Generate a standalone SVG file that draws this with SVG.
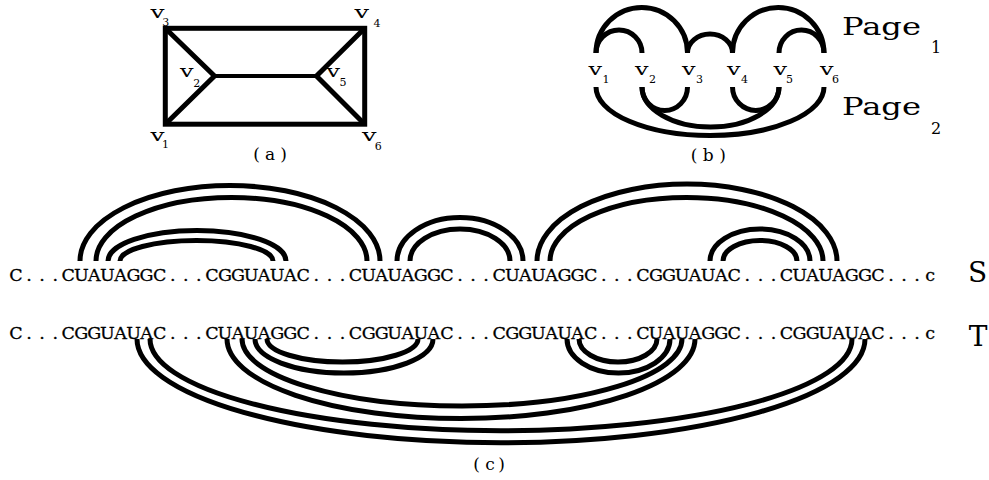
<svg xmlns="http://www.w3.org/2000/svg" width="989" height="480" viewBox="0 0 989 480">
<style>
.e{fill:none;stroke:#000;stroke-width:5;stroke-linecap:butt;stroke-linejoin:miter}
.m{font-family:"DejaVu Serif","Liberation Serif",serif;fill:#000;text-anchor:middle}
.s{font-family:"DejaVu Serif","Liberation Serif",serif;fill:#000;text-anchor:start}
.v{font-size:17.5px}
.sub{font-size:11px}
.seq{font-size:17.5px;stroke:#000;stroke-width:0.3px}
.cap{font-size:17px}
.page{font-size:25px}
.psub{font-size:16px}
.lab{font-size:28px}
</style>
<rect width="989" height="480" fill="#fff"/>

<!-- Panel (a) -->
<g id="a-edges" class="e">
<rect x="165.3" y="28.3" width="199.4" height="95.9"/>
<polyline points="165.3,28.3 214.5,76 165.3,124.2"/>
<polyline points="364.7,28.3 316.5,76 364.7,124.2"/>
<line x1="214.5" y1="76" x2="316.5" y2="76" style="stroke-width:4"/>
</g>
<g id="a-v1"><text class="s v" x="150.5" y="140.7" textLength="14" lengthAdjust="spacingAndGlyphs">v</text><text class="m sub" x="165.5" y="148.3">1</text></g>
<g id="a-v2"><text class="s v" x="180" y="76.7" textLength="13.5" lengthAdjust="spacingAndGlyphs">v</text><text class="m sub" x="196.7" y="86.7">2</text></g>
<g id="a-v3"><text class="s v" x="150.5" y="18.3" textLength="14" lengthAdjust="spacingAndGlyphs">v</text><text class="m sub" x="165.8" y="26">3</text></g>
<g id="a-v4"><text class="s v" x="354.5" y="18.3" textLength="14.5" lengthAdjust="spacingAndGlyphs">v</text><text class="m sub" x="377" y="26.7">4</text></g>
<g id="a-v5"><text class="s v" x="326.5" y="76.7" textLength="13.5" lengthAdjust="spacingAndGlyphs">v</text><text class="m sub" x="343" y="86">5</text></g>
<g id="a-v6"><text class="s v" x="362" y="140.7" textLength="14.5" lengthAdjust="spacingAndGlyphs">v</text><text class="m sub" x="378.3" y="150">6</text></g>
<text class="m cap" x="256.5 270 283.5" y="160">(a)</text>

<!-- Panel (b) -->
<g id="b-page1" class="e">
<path d="M596 53 A45.75 45.5 0 0 1 687.5 53"/>
<path d="M596 53 A23 23 0 0 1 642 53"/>
<path d="M687.5 53 A22.5 19 0 0 1 732.5 53"/>
<path d="M732.5 53 A45.75 45.5 0 0 1 824 53"/>
<path d="M779 53 A22.5 23 0 0 1 824 53"/>
</g>
<g id="b-page2" class="e">
<path d="M642 87 A22.75 23.5 0 0 0 687.5 87"/>
<path d="M732.5 87 A23.25 23.5 0 0 0 779 87"/>
<path d="M642 87 A68.5 40 0 0 0 779 87"/>
<path d="M596 87 A114 48.5 0 0 0 824 87"/>
</g>
<g id="b-v1"><text class="s v" x="588.5" y="75" textLength="13.5" lengthAdjust="spacingAndGlyphs">v</text><text class="m sub" x="606" y="83.3">1</text></g>
<g id="b-v2"><text class="s v" x="635" y="75" textLength="13.5" lengthAdjust="spacingAndGlyphs">v</text><text class="m sub" x="652.5" y="83.3">2</text></g>
<g id="b-v3"><text class="s v" x="682" y="75" textLength="13.5" lengthAdjust="spacingAndGlyphs">v</text><text class="m sub" x="699.5" y="83.3">3</text></g>
<g id="b-v4"><text class="s v" x="727" y="75" textLength="13.5" lengthAdjust="spacingAndGlyphs">v</text><text class="m sub" x="744.5" y="83.3">4</text></g>
<g id="b-v5"><text class="s v" x="773.5" y="75" textLength="13.5" lengthAdjust="spacingAndGlyphs">v</text><text class="m sub" x="789.5" y="83.3">5</text></g>
<g id="b-v6"><text class="s v" x="820" y="75" textLength="13.5" lengthAdjust="spacingAndGlyphs">v</text><text class="m sub" x="835.5" y="83.3">6</text></g>
<g id="b-page-labels">
<text class="s page" x="842" y="35" textLength="79" lengthAdjust="spacingAndGlyphs">Page</text><text class="m psub" x="936" y="53.3">1</text>
<text class="s page" x="842" y="115" textLength="79" lengthAdjust="spacingAndGlyphs">Page</text><text class="m psub" x="936" y="134">2</text>
</g>
<text class="m cap" x="694 708.3 722.5" y="161">(b)</text>

<!-- Panel (c) -->
<g id="c-arcs-S" class="e">
<path d="M80 261 A150 75.5 0 0 1 380 261"/>
<path d="M96 261 A135.5 63.5 0 0 1 367 261"/>
<path d="M108 261 A89 30.5 0 0 1 286 261"/>
<path d="M120 261 A76.5 20.5 0 0 1 273 261"/>
<path d="M397 261 A63 43.5 0 0 1 523 261"/>
<path d="M410 261 A50 32 0 0 1 510 261"/>
<path d="M537 261 A150 77 0 0 1 837 261"/>
<path d="M550 261 A136.5 63.5 0 0 1 823 261"/>
<path d="M710 261 A50 32 0 0 1 810 261"/>
<path d="M723 261 A37 20.5 0 0 1 797 261"/>
</g>
<g id="c-arcs-T" class="e">
<path d="M137 339 A364 103.7 0 0 0 865 339"/>
<path d="M150 339 A351 91.7 0 0 0 852 339"/>
<path d="M227 339 A234 79.6 0 0 0 695 339"/>
<path d="M242 339 A220 67 0 0 0 682 339"/>
<path d="M255 339 A89 34 0 0 0 433 339"/>
<path d="M267 339 A75.5 23 0 0 0 418 339"/>
<path d="M567 339 A51.5 34 0 0 0 670 339"/>
<path d="M579 339 A39 23 0 0 0 657 339"/>
</g>
<g id="seq-S">
<text class="m seq" x="16 29.06 42.12 55.18 68.24 81.3 94.36 107.42 120.48 133.54 146.6 159.66 172.72 185.78 198.84 211.9 224.96 238.02 251.08 264.14 277.2 290.26 303.32 316.38 329.44 342.5 355.56 368.62 381.68 394.74 407.8 420.86 433.92 446.98 460.04 473.1 486.16 499.22 512.28 525.34 538.4 551.46 564.52 577.58 590.64 603.7 616.76 629.82 642.88 655.94 669 682.06 695.12 708.18 721.24 734.3 747.36 760.42 773.48 786.54 799.6 812.66 825.72 838.78 851.84 864.9 877.96 891.02 904.08 917.14 930.2" y="280.5">C...CUAUAGGC...CGGUAUAC...CUAUAGGC...CUAUAGGC...CGGUAUAC...CUAUAGGC...c</text>
<text class="m lab" x="977.5" y="282">S</text>
</g>
<g id="seq-T">
<text class="m seq" x="16 29.06 42.12 55.18 68.24 81.3 94.36 107.42 120.48 133.54 146.6 159.66 172.72 185.78 198.84 211.9 224.96 238.02 251.08 264.14 277.2 290.26 303.32 316.38 329.44 342.5 355.56 368.62 381.68 394.74 407.8 420.86 433.92 446.98 460.04 473.1 486.16 499.22 512.28 525.34 538.4 551.46 564.52 577.58 590.64 603.7 616.76 629.82 642.88 655.94 669 682.06 695.12 708.18 721.24 734.3 747.36 760.42 773.48 786.54 799.6 812.66 825.72 838.78 851.84 864.9 877.96 891.02 904.08 917.14 930.2" y="338.5">C...CGGUAUAC...CUAUAGGC...CGGUAUAC...CGGUAUAC...CUAUAGGC...CGGUAUAC...c</text>
<text class="m lab" x="978" y="346">T</text>
</g>
<text class="m cap" x="476.5 490 501.5" y="470">(c)</text>
</svg>
